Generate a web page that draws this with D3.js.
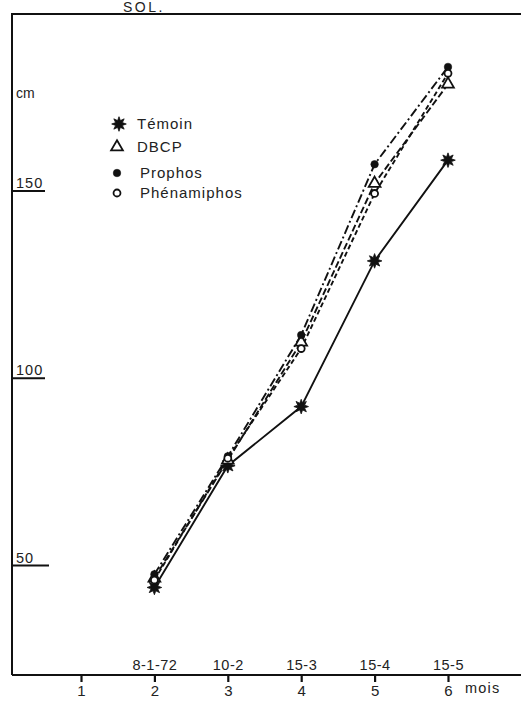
<!DOCTYPE html>
<html><head><meta charset="utf-8">
<script src="https://cdn.jsdelivr.net/npm/d3@7"></script>
<style>
body{margin:0;background:#fff;}
svg{display:block;font-family:"Liberation Sans",Arial,sans-serif;}
</style></head>
<body>
<svg id="c" width="521" height="701"></svg>
<script>
const months = [2, 3, 4, 5, 6];
const dateLabels = ["8-1-72", "10-2", "15-3", "15-4", "15-5"];
const monthTicks = [1, 2, 3, 4, 5, 6];
const yTicks = [50, 100, 150];
const temoin = [44, 76.5, 92.3, 131.2, 158.1];
const dbcp = [46.5, 78, 109.5, 151.9, 178.4];
const prophos = [47.5, 79, 111.4, 157, 183];
const phenamiphos = [46, 78.5, 107.8, 149.2, 181.3];
const seriesNames = ["Témoin", "DBCP", "Prophos", "Phénamiphos"];

const svg = d3.select("#c");
const x = d3.scaleLinear().domain([1, 6]).range([81, 448]);
const y = d3.scaleLinear().domain([50, 150]).range([565, 190.5]);
const X0 = 12, Y0 = 675, YT = 14, XR = 521;
const FF = "Liberation Sans, Arial, sans-serif";

// title fragment
svg.append("text").attr("x", 123).attr("y", 11.5).style("font-size", "14px")
  .attr("letter-spacing", 2.5).attr("fill", "#222").text("SOL.");

// frame lines
svg.append("line").attr("x1", 11).attr("x2", XR).attr("y1", YT).attr("y2", YT)
  .attr("stroke", "#111").attr("stroke-width", 2);
svg.append("line").attr("x1", X0).attr("x2", X0).attr("y1", YT).attr("y2", Y0)
  .attr("stroke", "#111").attr("stroke-width", 2);
svg.append("line").attr("x1", X0).attr("x2", XR).attr("y1", Y0).attr("y2", Y0)
  .attr("stroke", "#111").attr("stroke-width", 2);

// y axis
const ya = svg.append("g").attr("transform", `translate(${X0},0)`)
  .call(d3.axisRight(y).tickValues(yTicks).tickSize(34).tickFormat(d3.format("d")));
ya.attr("font-size", null).attr("font-family", null);
ya.select(".domain").remove();
ya.selectAll(".tick line").attr("stroke", "#111").attr("stroke-width", 1.8)
  .attr("x2", d => d === 50 ? 37 : 33);
ya.selectAll(".tick text").attr("x", 4).attr("dy", -3).attr("text-anchor", "start")
  .style("font-size", "14.5px").attr("letter-spacing", 1)
  .attr("fill", "#222").style("font-family", FF);
svg.append("text").attr("x", 16).attr("y", 98).style("font-size", "14px").attr("fill", "#222").text("cm");

// x axis (months)
const xa = svg.append("g").attr("transform", `translate(0,${Y0})`)
  .call(d3.axisBottom(x).tickValues(monthTicks).tickSize(7).tickPadding(3).tickFormat(d3.format("d")));
xa.attr("font-size", null).attr("font-family", null);
xa.select(".domain").remove();
xa.selectAll(".tick line").attr("stroke", "#111").attr("stroke-width", 2.2);
xa.selectAll(".tick text").style("font-size", "15px").attr("fill", "#222")
  .style("font-family", FF);
svg.append("text").attr("x", 465).attr("y", 693).style("font-size", "14.5px")
  .attr("letter-spacing", 1.2).attr("fill", "#222").text("mois");

// date labels above axis
const xd = svg.append("g").attr("transform", `translate(0,${Y0})`)
  .call(d3.axisTop(x).tickValues(months).tickSize(0).tickPadding(5)
    .tickFormat((d, i) => dateLabels[i]));
xd.attr("font-size", null).attr("font-family", null);
xd.select(".domain").remove();
xd.selectAll(".tick text").style("font-size", "14.5px").attr("fill", "#222")
  .attr("letter-spacing", 0.5).style("font-family", FF);

// marker shapes
const star8 = {draw(ctx, size) {
  const R = Math.sqrt(size) * 0.75, r = R * 0.5;
  for (let i = 0; i < 16; i++) {
    const a = i * Math.PI / 8 - Math.PI / 2;
    const rr = i % 2 ? r : R;
    i ? ctx.lineTo(rr * Math.cos(a), rr * Math.sin(a)) : ctx.moveTo(rr * Math.cos(a), rr * Math.sin(a));
  }
  ctx.closePath();
}};
const styles = [
  {vals: temoin, dash: null, sym: star8, size: 95, fill: "#111", stroke: "#111", sw: 0.8},
  {vals: dbcp, dash: "7,3", sym: d3.symbolTriangle, size: 60, fill: "#fff", stroke: "#111", sw: 1.8},
  {vals: prophos, dash: "9,3,2,3", sym: d3.symbolCircle, size: 45, fill: "#111", stroke: "#111", sw: 0.5},
  {vals: phenamiphos, dash: "5,3", sym: d3.symbolCircle, size: 38, fill: "#fff", stroke: "#111", sw: 1.8}
];

const line = d3.line().x(d => x(d[0])).y(d => y(d[1]));
styles.forEach(s => {
  const pts = months.map((m, i) => [m, s.vals[i]]);
  svg.append("path").attr("d", line(pts)).attr("fill", "none")
    .attr("stroke", "#111").attr("stroke-width", 1.9)
    .attr("stroke-dasharray", s.dash);
});
styles.forEach(s => {
  const pts = months.map((m, i) => [m, s.vals[i]]);
  svg.append("g").selectAll("path").data(pts).join("path")
    .attr("transform", d => `translate(${x(d[0])},${y(d[1])})`)
    .attr("d", d3.symbol(s.sym, s.size)())
    .attr("fill", s.fill).attr("stroke", s.stroke).attr("stroke-width", s.sw);
});

// legend
const legY = [124, 147, 173, 193];
const legTX = [137, 137, 140, 140];
const lg = svg.append("g");
seriesNames.forEach((n, i) => {
  const s = styles[i];
  lg.append("path").attr("transform", `translate(${i === 0 ? 119 : 117},${legY[i]})`)
    .attr("d", d3.symbol(s.sym, s.size)()).attr("fill", s.fill)
    .attr("stroke", s.stroke).attr("stroke-width", s.sw);
  lg.append("text").attr("x", legTX[i]).attr("y", legY[i] + 5).style("font-size", "15px")
    .attr("letter-spacing", 1).attr("fill", "#222").text(n);
});
</script>
</body></html>
